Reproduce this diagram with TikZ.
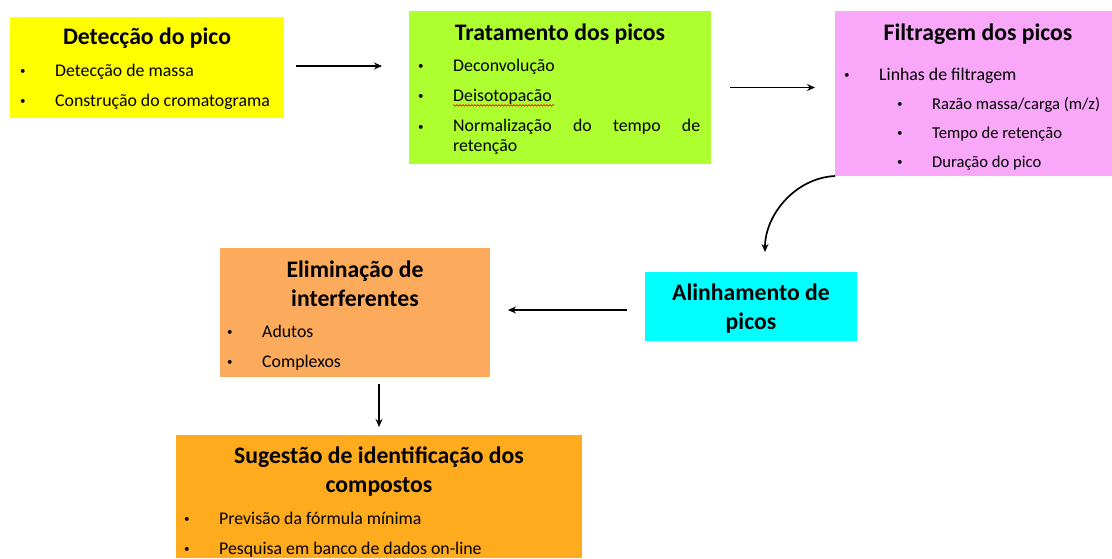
\documentclass[tikz,border=0pt]{standalone}
\usepackage{fontspec}
\setmainfont{Carlito}
\usetikzlibrary{arrows.meta,decorations.pathmorphing}
\definecolor{amarelo}{HTML}{FFFF00}
\definecolor{verdelima}{HTML}{ADFF2F}
\definecolor{rosa}{HTML}{F9A8F9}
\definecolor{ciano}{HTML}{00FFFF}
\definecolor{laranjaclaro}{HTML}{FBAB5B}
\definecolor{laranja}{HTML}{FFAB1E}
\newcommand{\ponto}{\raisebox{1.8pt}{\fontsize{11}{11}\selectfont\textbullet}}
\newcommand{\bala}{\makebox[35pt][l]{\ponto}}
\hyphenpenalty=10000

\begin{document}
\begin{tikzpicture}[x=1pt,y=-1pt,
    caixa/.style={inner sep=0pt, outer sep=0pt},
    titulo/.style={inner sep=0pt, align=center, font=\bfseries\fontsize{23.7}{29}\selectfont},
    item/.style={anchor=mid west, inner sep=0pt, font=\fontsize{17.8}{20}\selectfont},
    subitem/.style={item, font=\fontsize{16.6}{20}\selectfont},
    seta/.style={-{Stealth[length=8pt,width=7pt]}, line width=1.7pt},
    ondulado/.style={draw=red, line width=0.6pt, decorate,
        decoration={snake, amplitude=0.8pt, segment length=3pt}}]

    \useasboundingbox (0,0) rectangle (1112,558);

    % caixas
    \node[caixa, fill=amarelo, minimum width=274pt, minimum height=101pt] (deteccao) at (147,67.5) {};
    \node[caixa, fill=verdelima, minimum width=302pt, minimum height=153pt] (tratamento) at (560,87.5) {};
    \node[caixa, fill=rosa, minimum width=277pt, minimum height=165pt] (filtragem) at (973.5,93.5) {};
    \node[caixa, fill=ciano, minimum width=212pt, minimum height=69pt] (alinhamento) at (751,306.5) {};
    \node[caixa, fill=laranjaclaro, minimum width=270pt, minimum height=129pt] (eliminacao) at (355,312.5) {};
    \node[caixa, fill=laranja, minimum width=406pt, minimum height=123pt] (sugestao) at (379,496.5) {};

    % textos
    \node[titulo, anchor=mid] (t1) at (147,42) {Detecção do pico};
    \node[item] (d1) at (20,74) {\bala Detecção de massa};
    \node[item] (d2) at (20,104) {\bala Construção do cromatograma};

    \node[titulo, anchor=mid] (t2) at (560,38) {Tratamento dos picos};
    \node[item] (p1) at (418,69) {\bala Deconvolução};
    \node[item] (p2) at (418,99) {\bala Deisotopacão};
    \node[item] (p3) at (418,130) {\ponto};
    \node[item, anchor=north west, text width=247pt, align=justify] (p4) at (453,119)
        {Normalização do tempo de retenção};
    \draw[ondulado] ([xshift=35pt,yshift=-4pt]p2.base west) -- ([xshift=2pt,yshift=-4pt]p2.base east);

    \node[titulo, anchor=mid] (t3) at (978,38) {Filtragem dos picos};
    \node[item] (f1) at (844,78) {\bala Linhas de filtragem};
    \node[subitem] (f2) at (897,107) {\bala Razão massa/carga (m/z)};
    \node[subitem] (f3) at (897,136) {\bala Tempo de retenção};
    \node[subitem] (f4) at (897,165) {\bala Duração do pico};

    \node[titulo] (t4) at (751,309) {Alinhamento de\\picos};

    \node[titulo] (t5) at (355,284) {Eliminação de\\interferentes};
    \node[item] (e1) at (227,335) {\bala Adutos};
    \node[item] (e2) at (227,365) {\bala Complexos};

    \node[titulo] (t6) at (379,472) {Sugestão de identificação dos\\compostos};
    \node[item] (s1) at (184,522) {\bala Previsão da fórmula mínima};
    \node[item] (s2) at (184,552) {\bala Pesquisa em banco de dados on-line};

    % setas
    \draw[seta] ([xshift=12pt,yshift=1.5pt]deteccao.east) -- ([xshift=-27pt,yshift=1.5pt]deteccao.east -| tratamento.west);
    \draw[seta] ([xshift=19pt]tratamento.east) -- ([xshift=-20pt]tratamento.east -| filtragem.west);
    \draw[seta] (filtragem.south west) .. controls (795,178) and (765,215) .. ([xshift=14pt,yshift=20pt]alinhamento.north);
    \draw[seta] ([xshift=-18pt,yshift=-3.5pt]alinhamento.west) -- ([xshift=18pt,yshift=-3.5pt]alinhamento.west -| eliminacao.east);
    \draw[seta] ([yshift=-7pt]eliminacao.south -| sugestao.north) -- ([yshift=8pt]sugestao.north);
\end{tikzpicture}
\end{document}
